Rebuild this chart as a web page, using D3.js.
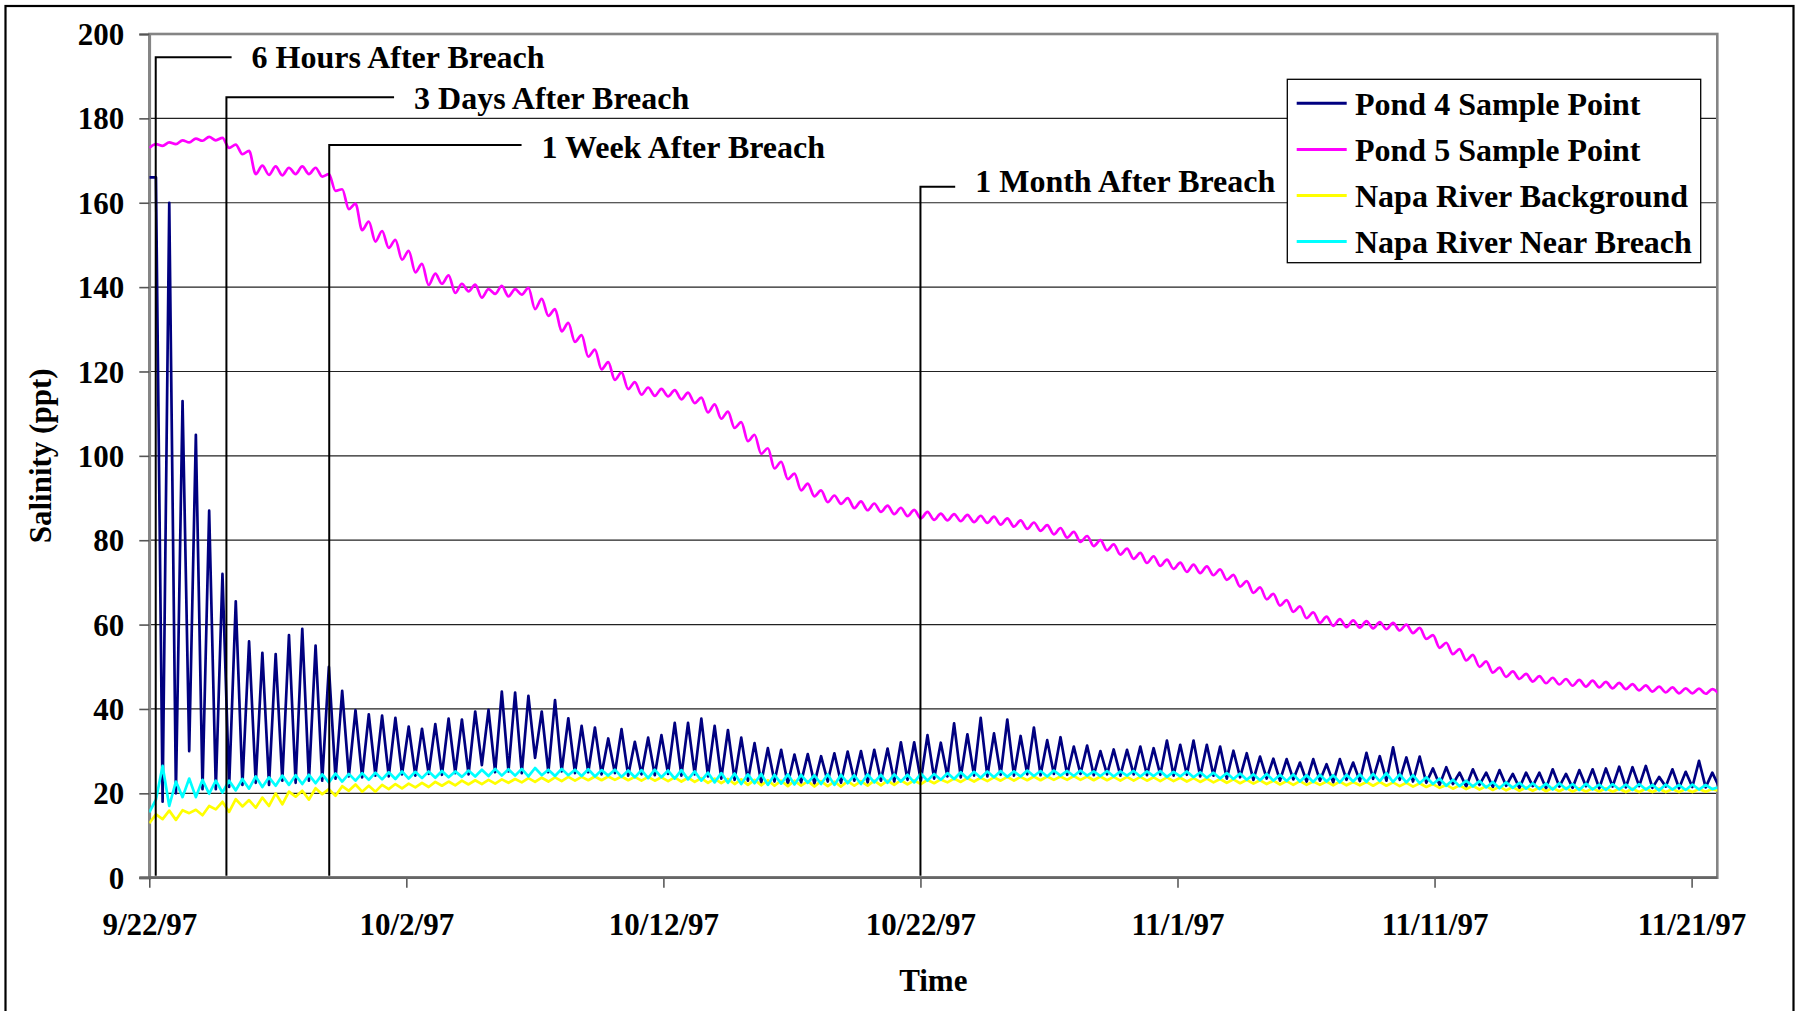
<!DOCTYPE html>
<html>
<head>
<meta charset="utf-8">
<script src="https://cdn.jsdelivr.net/npm/d3@7"></script>
<style>
  html, body { margin: 0; padding: 0; background: #fff; }
  svg text { font-family: "Liberation Serif", "Times New Roman", serif; font-weight: bold; fill: #000; }
</style>
</head>
<body>
<svg id="chart"></svg>
<script>
// series, in drawing / legend order
var seriesNames = ["Pond 4 Sample Point", "Pond 5 Sample Point", "Napa River Background", "Napa River Near Breach"];
var seriesColors = ["#000080", "#ff00ff", "#ffff00", "#00ffff"];

// salinity (ppt) read every half tide (6.21 h) starting 9/22/97 00:00
var pond4 = [
  166, 166, 18, 160, 20, 113, 30, 105,
  21, 87, 21, 72, 21.5, 65.5, 22, 56,
  22.5, 53.3, 22, 53, 23, 57.5, 22.5, 59,
  23, 55, 23, 50, 23.5, 44.3, 24, 39.7,
  23.8, 38.7, 24.2, 38.4, 24, 37.9, 24.5, 35.8,
  24.2, 35.3, 24.6, 36.4, 24.4, 37.7, 24.8, 37.5,
  24.5, 39.4, 26.7, 39.8, 25, 44.1, 25.2, 43.9,
  24.8, 43.1, 28.4, 39.4, 25, 42.1, 25.2, 37.8,
  24.8, 36, 25, 35.6, 24.5, 33, 24.8, 35.2,
  24.2, 32.2, 24.5, 33.2, 24.3, 33.8, 24.6, 36.7,
  24.2, 36.7, 24.5, 37.7, 24, 36, 23.5, 35,
  23.2, 33.2, 23, 31.9, 22.5, 30.7, 22.8, 30.3,
  22.2, 29.2, 22.6, 29.3, 22.3, 28.8, 22.8, 29.5,
  22.5, 29.9, 23, 30, 22.6, 30.3, 23, 30.6,
  22.8, 32.1, 23.2, 32.1, 23, 33.8, 23.5, 32,
  24, 36.6, 23.8, 34, 24.2, 37.9, 24, 34.2,
  24.4, 37.5, 24.2, 33.6, 24.5, 35.6, 24.3, 32.6,
  24.6, 33.3, 24.4, 31.1, 24.6, 31.3, 24.3, 30,
  24.5, 30.4, 24.2, 30.3, 24.5, 31.1, 24.3, 30.7,
  24.4, 32.5, 24.2, 31.5, 24.4, 32.5, 24, 31.5,
  24.2, 31.1, 23.5, 30.1, 23.8, 29.5, 23.2, 28.7,
  23.5, 28.2, 23, 28.1, 23.3, 27.3, 22.8, 28.1,
  23, 26.9, 22.6, 28.1, 23.2, 27.3, 22.9, 29.6,
  23.4, 28.8, 23, 30.9, 23.2, 28.5, 22.8, 28.7,
  22.5, 25.9, 22, 26.2, 22.2, 24.9, 21.6, 25.7,
  22, 24.9, 21.5, 25.5, 21.8, 24.6, 21.3, 24.9,
  21.7, 24.9, 21.2, 25.7, 21.6, 24.6, 21.3, 25.5,
  21.7, 25.7, 21.2, 25.9, 21.6, 26.3, 21.4, 26.2,
  21.7, 26.5, 21.3, 23.9, 21.6, 25.7, 21.2, 25.1,
  21.5, 27.7, 21.4, 24.9, 21.6
];

var pond5 = [
  173, 173.9, 173.5, 174.3, 173.9, 174.8, 174.3, 175.2,
  174.7, 175.6, 174.8, 175.4, 173, 173.8, 171.5, 172.3,
  166.8, 168.8, 166.6, 168.6, 166.5, 168.3, 166.8, 168.6,
  166.8, 168.3, 166.2, 166.8, 162.8, 163.2, 158.5, 159.8,
  153.5, 155.5, 150.8, 153.3, 149.3, 151.2, 146.5, 148.6,
  143.5, 145.5, 140.5, 143.2, 140.8, 142.8, 138.6, 140.8,
  139, 140.6, 137.5, 139.5, 138.4, 140.3, 137.8, 139.5,
  138.2, 139.8, 134.8, 137.2, 133.2, 134.8, 129.5, 131.5,
  127, 128.6, 123.5, 125.2, 120.5, 122.2, 118, 119.8,
  115.8, 117.5, 114.5, 116.2, 114.2, 115.9, 114.1, 115.6,
  113.4, 115, 112.5, 113.8, 110.3, 112.2, 108.8, 110.5,
  106.6, 108, 103.5, 105, 100.5, 101.8, 97, 98.6,
  94.5, 95.8, 91.8, 93.4, 90.4, 91.8, 89, 90.6,
  88.6, 90, 87.6, 89.2, 87.1, 88.7, 86.7, 88.2,
  86.2, 87.7, 85.7, 87.2, 85.2, 86.7, 84.8, 86.3,
  84.7, 86.2, 84.5, 86, 84.3, 85.8, 84.1, 85.6,
  83.7, 85.2, 83.2, 84.7, 82.7, 84.2, 82.2, 83.6,
  81.4, 82.9, 80.6, 82, 79.6, 81, 78.6, 80,
  77.6, 79, 76.6, 78, 75.6, 77, 74.6, 76.2,
  73.9, 75.4, 73.2, 74.7, 72.5, 74.2, 72.2, 73.8,
  71.7, 73.1, 70.6, 71.8, 69, 70.3, 67.5, 68.8,
  66, 67.3, 64.5, 65.8, 63, 64.3, 61.5, 62.9,
  60.4, 61.9, 59.7, 61.3, 59.4, 61, 59.3, 60.8,
  59.1, 60.6, 58.9, 60.4, 58.6, 60, 58, 59.2,
  56.6, 57.5, 54.5, 55.7, 53, 54.2, 51.5, 52.8,
  50, 51.3, 48.6, 49.8, 47.6, 48.9, 47.1, 48.3,
  46.5, 47.8, 46.1, 47.4, 45.8, 47.1, 45.5, 46.9,
  45.3, 46.7, 45.1, 46.4, 44.9, 46.2, 44.7, 45.9,
  44.4, 45.6, 44.1, 45.3, 43.9, 45.1, 43.7, 44.9,
  43.7, 44.8, 43.6, 44.7, 43.6
];

var napaBackground = [
  12.9, 15, 13.9, 15.9, 13.7, 16, 15.3, 16.1,
  14.8, 17, 16.2, 18, 15.6, 18.6, 16.9, 18.4,
  16.6, 19, 17, 20, 17.4, 20.4, 19.2, 20.6,
  18.5, 21.2, 19.8, 21, 19.4, 21.7, 20.6, 22.1,
  20.4, 21.8, 20.4, 22, 21, 22.2, 21.2, 22.3,
  21.4, 22.5, 21.5, 22.7, 21.8, 22.8, 21.9, 23,
  22.1, 23.1, 22.2, 23.2, 22.3, 23.3, 22.5, 23.4,
  22.6, 23.6, 22.7, 23.7, 22.8, 23.8, 22.9, 23.9,
  23, 23.9, 23.1, 24, 23.1, 24, 23.2, 24,
  23.1, 23.9, 23, 23.9, 23, 23.8, 22.9, 23.8,
  22.8, 23.7, 22.7, 23.6, 22.5, 23.5, 22.4, 23.4,
  22.2, 23.3, 22, 23.2, 21.9, 23.1, 21.8, 23,
  21.7, 23, 21.8, 22.9, 21.6, 22.9, 21.7, 22.8,
  21.6, 22.9, 21.8, 22.9, 21.8, 23, 21.9, 23,
  22, 23.1, 22.1, 23.1, 22.2, 23.2, 22.4, 23.3,
  22.6, 23.5, 22.7, 23.6, 22.8, 23.7, 22.9, 23.8,
  23, 23.9, 23, 23.9, 23.1, 24, 23.1, 24,
  23.2, 24, 23.2, 24.1, 23.2, 24, 23.1, 24,
  23.1, 23.9, 23, 23.9, 23, 23.9, 23, 23.8,
  22.9, 23.8, 22.9, 23.7, 22.8, 23.6, 22.7, 23.5,
  22.6, 23.4, 22.5, 23.3, 22.4, 23.2, 22.3, 23.1,
  22.2, 23, 22.1, 22.9, 22, 22.9, 22, 22.8,
  22, 22.8, 21.9, 22.8, 21.9, 22.7, 21.9, 22.7,
  21.8, 22.7, 21.8, 22.6, 21.7, 22.5, 21.6, 22.4,
  21.5, 22.2, 21.3, 22, 21.1, 21.9, 21, 21.8,
  20.9, 21.7, 20.8, 21.6, 20.7, 21.5, 20.6, 21.4,
  20.6, 21.4, 20.5, 21.3, 20.5, 21.3, 20.4, 21.2,
  20.4, 21.2, 20.4, 21.2, 20.4, 21.1, 20.3, 21.1,
  20.3, 21.1, 20.3, 21.1, 20.3, 21, 20.3, 21,
  20.3, 21, 20.4, 21, 20.6
];

var napaNearBreach = [
  15.5, 18.5, 26.5, 17, 22.8, 19.1, 23.5, 19.1,
  23.2, 19.9, 23, 20.2, 23, 20.7, 23.4, 21.1,
  24, 21.5, 23.8, 21.8, 24.2, 22, 24.3, 22.2,
  24.4, 22.4, 24.5, 22.6, 24.7, 22.8, 24.6, 23,
  24.8, 23.2, 24.9, 23.3, 25, 23.4, 25.2, 23.5,
  25.1, 23.6, 25.2, 23.7, 25.3, 23.8, 25.2, 23.9,
  25.4, 24, 25.6, 24.1, 25.8, 24.2, 25.7, 24.2,
  25.8, 24, 26, 24.3, 25.6, 24.1, 25.8, 24.3,
  25.6, 24.1, 25.7, 24, 25.5, 24.2, 25.6, 23.9,
  25.4, 23.8, 25.5, 23.6, 25.6, 23.8, 25.4, 23.5,
  25.5, 23.3, 25.2, 23, 24.9, 22.6, 24.8, 22.5,
  24.7, 22.2, 24.5, 22.4, 24.6, 22, 24.4, 22.3,
  24.5, 22.1, 24.4, 22.5, 24.3, 22.2, 24.5, 22,
  24.4, 22.4, 24.3, 22.2, 24.5, 22.6, 24.4, 22.5,
  24.5, 22.8, 24.4, 22.6, 24.7, 23, 24.6, 23.2,
  24.8, 23.4, 25, 23.5, 25.1, 23.7, 25.2, 23.8,
  25.3, 23.9, 25.2, 24, 25.4, 24.1, 25.3, 24,
  25.4, 24.2, 25.3, 24.1, 25.4, 24.2, 25.2, 24.1,
  25.3, 24, 25.2, 24.2, 25.3, 24, 25.2, 24.1,
  25.3, 23.9, 25.1, 24, 25.2, 23.8, 25, 23.7,
  24.9, 23.5, 24.8, 23.4, 24.7, 23.2, 24.5, 23.1,
  24.6, 23, 24.4, 22.9, 24.5, 22.8, 24.3, 22.7,
  24.4, 22.8, 24.3, 22.6, 24.4, 22.8, 24.5, 22.7,
  24.6, 22.9, 24.8, 22.7, 24.5, 22.6, 24.3, 22.4,
  23.8, 22.2, 23.5, 21.8, 23.2, 21.7, 23, 21.6,
  22.9, 21.4, 22.7, 21.2, 22.6, 21.3, 22.5, 21.1,
  22.4, 21, 22.3, 20.9, 22.4, 21, 22.2, 20.8,
  22.3, 20.9, 22.1, 20.8, 22.2, 20.9, 22.1, 20.8,
  22.2, 20.9, 22, 20.7, 22.1, 20.9, 22, 20.8,
  22.1, 20.9, 22, 21, 21.5
];

var yTicks = [0, 20, 40, 60, 80, 100, 120, 140, 160, 180, 200];
var xTickDates = ["1997-09-22", "1997-10-02", "1997-10-12", "1997-10-22", "1997-11-01", "1997-11-11", "1997-11-21"];

// call-outs: days after the breach, leader height (ppt), label start day, label baseline (ppt)
var noteTexts = ["6 Hours After Breach", "3 Days After Breach", "1 Week After Breach", "1 Month After Breach"];
var noteDays = [0.25, 3, 7, 30];
var noteLevels = [194.5, 185, 173.7, 163.8];
var noteLabelDays = [3.98, 10.3, 15.26, 32.13];
var noteLabelLevels = [191.9, 182.3, 170.6, 162.6];

var breach = Date.UTC(1997, 8, 22);
var dayMs = 24 * 60 * 60 * 1000;
var halfTideMs = 6.21 * 60 * 60 * 1000;

var W = 1795, H = 1011;
var plotLeft = 149.3, plotRight = 1717.3, plotTop = 34, plotBottom = 877.7;
var font = 31;

var svg = d3.select("#chart")
  .attr("width", W)
  .attr("height", H);

svg.append("rect")
  .attr("width", W)
  .attr("height", H)
  .attr("fill", "#fff");

// outer frame
svg.append("rect")
  .attr("x", 5.5)
  .attr("y", 6)
  .attr("width", 1788)
  .attr("height", 1040)
  .attr("fill", "none")
  .attr("stroke", "#000")
  .attr("stroke-width", 2.2);

var x = d3.scaleUtc()
  .domain([new Date(breach), new Date(Date.UTC(1997, 10, 22))])
  .range([plotLeft, plotRight]);

var y = d3.scaleLinear()
  .domain([0, 200])
  .range([plotBottom, plotTop]);

//////////////////////////////////////////////////////
// GRID
//////////////////////////////////////////////////////
svg.append("g")
  .selectAll("line")
  .data(yTicks.filter(function(d) { return d > 0 && d < 200; }))
  .enter().append("line")
  .attr("x1", plotLeft)
  .attr("x2", plotRight)
  .attr("y1", function(d) { return y(d); })
  .attr("y2", function(d) { return y(d); })
  .attr("stroke", "#222")
  .attr("stroke-width", 1.2);

svg.append("rect")
  .attr("x", plotLeft)
  .attr("y", plotTop)
  .attr("width", plotRight - plotLeft)
  .attr("height", plotBottom - plotTop)
  .attr("fill", "none")
  .attr("stroke", "#858585")
  .attr("stroke-width", 2.6);

//////////////////////////////////////////////////////
// AXES
//////////////////////////////////////////////////////
var yAxis = d3.axisLeft(y)
  .tickValues(yTicks)
  .tickSize(10)
  .tickPadding(15)
  .tickFormat(d3.format("d"));

var gY = svg.append("g")
  .attr("transform", "translate(" + plotLeft + ",0)")
  .call(yAxis)
  .attr("font-size", null)
  .attr("font-family", null);
gY.select(".domain").attr("stroke", "#858585").attr("stroke-width", 2.6);
gY.selectAll(".tick line").attr("stroke", "#555").attr("stroke-width", 1.6);
gY.selectAll(".tick text").attr("font-size", font).attr("dy", "0.34em");

var xAxis = d3.axisBottom(x)
  .tickValues(xTickDates.map(function(d) { return new Date(d + "T00:00:00Z"); }))
  .tickSize(10)
  .tickPadding(25)
  .tickFormat(d3.utcFormat("%-m/%-d/%y"));

var gX = svg.append("g")
  .attr("transform", "translate(0," + plotBottom + ")")
  .call(xAxis)
  .attr("font-size", null)
  .attr("font-family", null);
gX.select(".domain").remove();
gX.selectAll(".tick line").attr("stroke", "#444").attr("stroke-width", 1.4);
gX.selectAll(".tick text").attr("font-size", font);

//////////////////////////////////////////////////////
// SERIES
//////////////////////////////////////////////////////
svg.append("defs").append("clipPath")
  .attr("id", "plotclip")
  .append("rect")
  .attr("x", plotLeft)
  .attr("y", plotTop)
  .attr("width", plotRight - plotLeft)
  .attr("height", plotBottom - plotTop);

function lineFor(curve) {
  return d3.line()
    .curve(curve)
    .x(function(d, i) { return x(new Date(breach + i * halfTideMs)); })
    .y(function(d) { return y(d); });
}
var straight = lineFor(d3.curveLinear);
var smooth = lineFor(d3.curveMonotoneX);   // pond 5 ripples are rounded

var allSeries = [pond4, pond5, napaBackground, napaNearBreach];

svg.append("g")
  .attr("clip-path", "url(#plotclip)")
  .selectAll("path")
  .data(allSeries)
  .enter().append("path")
  .attr("d", function(d, i) { return i === 1 ? smooth(d) : straight(d); })
  .attr("fill", "none")
  .attr("stroke", function(d, i) { return seriesColors[i]; })
  .attr("stroke-width", 2.7)
  .attr("stroke-linejoin", "round");

// x axis line over the data
svg.append("line")
  .attr("x1", plotLeft - 10)
  .attr("x2", plotRight)
  .attr("y1", plotBottom)
  .attr("y2", plotBottom)
  .attr("stroke", "#666")
  .attr("stroke-width", 2.8);

//////////////////////////////////////////////////////
// CALL-OUTS
//////////////////////////////////////////////////////
var notes = svg.append("g");
noteTexts.forEach(function(t, i) {
  var xd = x(new Date(breach + noteDays[i] * dayMs));
  var yl = y(noteLevels[i]);
  var xl = x(new Date(breach + noteLabelDays[i] * dayMs));
  notes.append("path")
    .attr("d", "M" + xd + "," + (plotBottom - 2) + "V" + yl + "H" + (xl - 20))
    .attr("fill", "none")
    .attr("stroke", "#000")
    .attr("stroke-width", 2);
  notes.append("text")
    .attr("x", xl)
    .attr("y", y(noteLabelLevels[i]))
    .attr("font-size", 32)
    .text(t);
});

//////////////////////////////////////////////////////
// LEGEND
//////////////////////////////////////////////////////
var legend = svg.append("g")
  .attr("transform", "translate(1287.3,79.3)");

legend.append("rect")
  .attr("width", 413.4)
  .attr("height", 183.4)
  .attr("fill", "#fff")
  .attr("stroke", "#000")
  .attr("stroke-width", 1.3);

var rows = legend.selectAll(".row")
  .data(seriesNames)
  .enter().append("g")
  .attr("class", "row")
  .attr("transform", function(d, i) { return "translate(0," + (24 + i * 46.1) + ")"; });

rows.append("line")
  .attr("x1", 9.4)
  .attr("x2", 59.4)
  .attr("stroke", function(d, i) { return seriesColors[i]; })
  .attr("stroke-width", 3);

rows.append("text")
  .attr("x", 67.7)
  .attr("y", 11.7)
  .attr("font-size", 32)
  .text(function(d) { return d; });

//////////////////////////////////////////////////////
// TITLES
//////////////////////////////////////////////////////
svg.append("text")
  .attr("transform", "translate(51," + ((plotTop + plotBottom) / 2) + ") rotate(-90)")
  .attr("text-anchor", "middle")
  .attr("font-size", font)
  .text("Salinity (ppt)");

svg.append("text")
  .attr("x", (plotLeft + plotRight) / 2)
  .attr("y", 991)
  .attr("text-anchor", "middle")
  .attr("font-size", font)
  .text("Time");
</script>
</body>
</html>
